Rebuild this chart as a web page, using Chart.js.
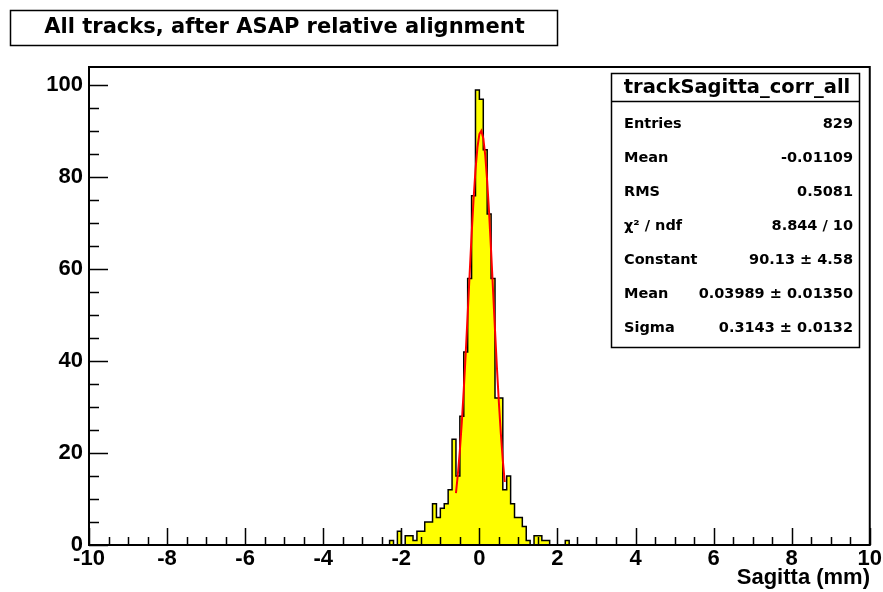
<!DOCTYPE html>
<html><head><meta charset="utf-8">
<script src="https://cdn.jsdelivr.net/npm/chart.js@4.4.0/dist/chart.umd.min.js"></script>
<style>html,body{margin:0;padding:0;background:#fff;}#wrap{width:883px;height:592px;position:relative;}</style>
</head><body><div id="wrap"><canvas id="c" width="883" height="592"></canvas></div>
<script>
// ---- data ----
const binWidth = 0.1;
const binLow = [-2.4,-2.3,-2.2,-2.1,-2.0,-1.9,-1.8,-1.7,-1.6,-1.5,-1.4,-1.3,-1.2,-1.1,-1.0,-0.9,-0.8,-0.7,-0.6,-0.5,-0.4,-0.3,-0.2,-0.1,
                0.0,0.1,0.2,0.3,0.4,0.5,0.6,0.7,0.8,0.9,1.0,1.1,1.2,1.3,1.4,1.5,1.6,1.7,1.8,1.9,2.0,2.1,2.2,2.3];
const binCounts = [0,1,0,3,0,2,2,1,3,3,5,5,9,6,8,9,12,23,15,28,42,58,76,99,
                   97,86,72,58,32,32,12,15,9,6,6,4,1,0,2,2,1,1,0,0,0,0,1,0];
const fitX = [-0.60,-0.55,-0.50,-0.45,-0.40,-0.35,-0.30,-0.25,-0.20,-0.15,-0.10,-0.05,0.00,
              0.05,0.10,0.15,0.20,0.25,0.30,0.35,0.40,0.45,0.50,0.55,0.60,0.65];
const fitY = [11.3,15.5,20.6,26.7,33.8,41.7,50.2,58.9,67.4,75.1,81.6,86.5,89.4,
              90.1,88.5,84.8,79.1,72.1,64.0,55.4,46.8,38.5,30.9,24.2,18.4,13.7];
const xMajorTicks = [-10,-8,-6,-4,-2,0,2,4,6,8,10];
const yMajorTicks = [0,20,40,60,80,100];
const titleText = 'All tracks, after ASAP relative alignment';
const xAxisTitle = 'Sagitta (mm)';
const statsTitle = 'trackSagitta_corr_all';
const statsLabels = ['Entries','Mean','RMS','\u03C7\u00B2 / ndf','Constant','Mean','Sigma'];
const statsValues = ['829','-0.01109','0.5081','8.844 / 10','90.13 \u00B1 4.58','0.03989 \u00B1 0.01350','0.3143 \u00B1 0.0132'];

// ---- build library data ----
const histPts = binLow.map((x, i) => ({x: x, y: binCounts[i]}));
histPts.push({x: binLow[binLow.length - 1] + binWidth, y: 0});
const fitPts = fitX.map((x, i) => ({x: x, y: fitY[i]}));

const tickFont = {family: '"Liberation Sans", Arial, sans-serif', size: 22, weight: 'bold'};

const rootStyle = {
  id: 'rootStyle',
  afterDatasetsDraw(chart) {
    const ctx = chart.ctx, xs = chart.scales.x, ys = chart.scales.y, a = chart.chartArea;
    ctx.save();
    ctx.strokeStyle = '#000';
    // x ticks (major every 2, minor every 0.5)
    ctx.lineWidth = 1.5;
    ctx.beginPath();
    for (let k = 0; k <= 40; k++) {
      const v = -10 + k * 0.5;
      const px = Math.round(xs.getPixelForValue(v)) + 0.5;
      const len = (k % 4 === 0) ? 17 : 8;
      ctx.moveTo(px, a.bottom); ctx.lineTo(px, a.bottom - len);
    }
    // y ticks (major every 20, minor every 5)
    for (let k = 0; k <= 20; k++) {
      const v = k * 5;
      const py = Math.round(ys.getPixelForValue(v)) + 0.5;
      const len = (k % 4 === 0) ? 19 : 10;
      ctx.moveTo(a.left, py); ctx.lineTo(a.left + len, py);
    }
    ctx.stroke();
    // frame
    ctx.lineWidth = 2;
    ctx.strokeRect(a.left, a.top, a.right - a.left, a.bottom - a.top);

    // stats box
    const bx = 611, by = 73, bw = 248, bh = 274;
    ctx.fillStyle = '#fff';
    ctx.fillRect(bx, by, bw, bh);
    ctx.lineWidth = 1.5;
    ctx.strokeRect(bx + 0.5, by + 0.5, bw, bh);
    ctx.beginPath(); ctx.moveTo(bx, 101.5); ctx.lineTo(bx + bw, 101.5); ctx.stroke();
    ctx.fillStyle = '#000';
    ctx.textBaseline = 'middle';
    ctx.textAlign = 'center';
    ctx.font = 'bold 19.5px "DejaVu Sans", sans-serif';
    ctx.fillText(statsTitle, bx + bw / 2 + 2, 88);
    ctx.font = 'bold 14.5px "DejaVu Sans", sans-serif';
    statsLabels.forEach((lab, i) => {
      const yy = 124 + i * 34;
      ctx.textAlign = 'left';
      ctx.fillText(lab, 624, yy);
      ctx.textAlign = 'right';
      ctx.fillText(statsValues[i], 853, yy);
    });

    // title box
    ctx.lineWidth = 1.5;
    ctx.fillStyle = '#fff';
    ctx.fillRect(10, 10, 547, 35);
    ctx.strokeRect(10.5, 10.5, 547, 35);
    ctx.fillStyle = '#000';
    ctx.textAlign = 'center';
    ctx.font = 'bold 21px "DejaVu Sans", sans-serif';
    ctx.fillText(titleText, 284.5, 28);

    // x axis title
    ctx.textAlign = 'right';
    ctx.font = 'bold 22px "Liberation Sans", Arial, sans-serif';
    ctx.fillText(xAxisTitle, 870, 578);
    ctx.restore();
  }
};

new Chart(document.getElementById('c'), {
  type: 'line',
  data: {
    datasets: [
      {
        label: 'fit', data: fitPts, borderColor: '#ff0000', borderWidth: 2,
        pointRadius: 0, fill: false, tension: 0, order: 0
      },
      {
        label: 'hist', data: histPts, stepped: 'before', borderColor: '#000000', borderWidth: 1.5,
        backgroundColor: '#ffff00', fill: 'origin', pointRadius: 0, order: 1
      }
    ]
  },
  options: {
    responsive: false,
    animation: false,
    events: [],
    layout: {padding: {left: 0, top: 67, right: 13, bottom: 0}},
    plugins: {legend: {display: false}, tooltip: {enabled: false}, title: {display: false}},
    scales: {
      x: {
        type: 'linear', min: -10, max: 10,
        grid: {display: false, drawTicks: false},
        border: {display: false},
        ticks: {stepSize: 2, font: tickFont, color: '#000', padding: 1, maxRotation: 0, autoSkip: false,
                callback: (v) => xMajorTicks.includes(v) ? String(v) : ''},
        afterFit: (s) => { s.height = 47; }
      },
      y: {
        type: 'linear', min: 0, max: 104,
        grid: {display: false, drawTicks: false},
        border: {display: false},
        ticks: {stepSize: 20, includeBounds: false, font: tickFont, color: '#000', padding: 6,
                callback: (v) => yMajorTicks.includes(v) ? String(v) : ''},
        afterFit: (s) => { s.width = 89; }
      }
    }
  },
  plugins: [rootStyle]
});
</script>
</body></html>
